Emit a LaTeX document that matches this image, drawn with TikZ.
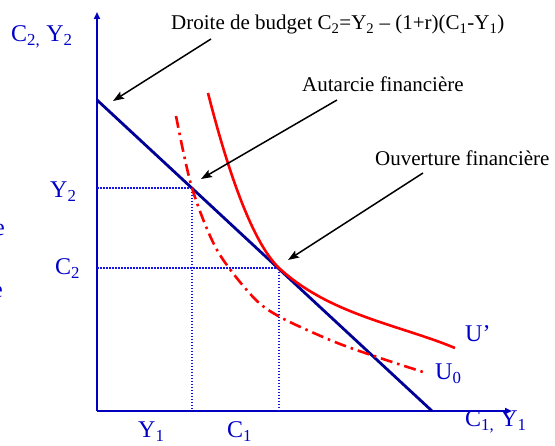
\documentclass[tikz,border=0pt]{standalone}
\usepackage{fontspec}
\setmainfont{Liberation Serif}
\usetikzlibrary{arrows.meta}
\definecolor{axisblue}{RGB}{0,0,190}
\definecolor{budgetblue}{RGB}{0,0,150}
\definecolor{dotblue}{RGB}{20,20,230}
\definecolor{labelblue}{RGB}{0,0,200}
\newcommand{\sbs}[1]{\textsubscript{#1}}

\begin{document}
\begin{tikzpicture}[x=1pt,y=-1pt,
  axis/.style={line width=2pt,axisblue},
  budget/.style={line width=2.8pt,budgetblue},
  guide/.style={line width=1.5pt,dotblue,dash pattern=on 1.5pt off 1.5pt},
  pointer/.style={line width=1.5pt,-{Stealth[length=11pt,width=8pt,inset=2pt]}},
  blabel/.style={text=labelblue,font=\fontsize{24}{26}\selectfont,inner sep=0pt,anchor=base west},
  tlabel/.style={font=\fontsize{21}{24}\selectfont,inner sep=0pt,anchor=base west}]
  \useasboundingbox (0,0) rectangle (555,446);
  \clip (0,0) rectangle (555,446);

  % axes
  \coordinate (O) at (97,411);
  \coordinate (ytop) at (97,12);
  \coordinate (xend) at (512,411);
  \draw[axis,-{Triangle[length=7pt,width=6pt]}] (O) -- (ytop);
  \draw[axis,-{Triangle[length=7pt,width=6pt]}] (O) -- (xend);

  % budget line and points
  \coordinate (bTop) at (97,100);
  \coordinate (bEnd) at (432,411);
  \coordinate (Ypt) at (192,188);
  \coordinate (Cpt) at (279,268);
  \draw[guide] (97,188) -- (Ypt) -- (192,411);
  \draw[guide] (97,268) -- (Cpt) -- (279,411);
  \draw[budget] (bTop) -- (bEnd);

  % indifference curves
  \draw[red,line width=2.6pt] (208,93) .. controls (225,160) and (250,240) .. (Cpt)
     .. controls (330,315) and (400,325) .. (455,348);
  \draw[red,line width=2.6pt,dash pattern=on 12pt off 5pt on 2.5pt off 5pt]
     plot[smooth] coordinates {(176,116) (192,188) (217,250) (253,297) (280,317)
       (330,340) (368,354) (423,372)};

  % labels
  \node[blabel] (lc2y2) at (11,42) {C\sbs{2,} Y\sbs{2}};
  \node[blabel] (ly2) at (50,198) {Y\sbs{2}};
  \node[blabel] (lc2) at (55,275) {C\sbs{2}};
  \node[blabel] (ly1) at (138,438) {Y\sbs{1}};
  \node[blabel] (lc1) at (227,438) {C\sbs{1}};
  \node[blabel] (lc1y1) at (465,427) {C\sbs{1,} Y\sbs{1}};
  \node[blabel] (lu1) at (465,342) {U’};
  \node[blabel] (lu0) at (435,380) {U\sbs{0}};
  \node[blabel] (le1) at (-6,236) {e};
  \node[blabel] (le2) at (-8,298) {e};

  \node[tlabel] (budgetTxt) at (171,30) {Droite de budget C\sbs{2}=Y\sbs{2} – (1+r)(C\sbs{1}-Y\sbs{1})};
  \node[tlabel] (autTxt) at (302,92) {Autarcie financière};
  \node[tlabel] (ouvTxt) at (375,166) {Ouverture financière};

  % pointers
  \coordinate (p1s) at (211,39);
  \coordinate (p1e) at (113,101);
  \coordinate (p2s) at (337,100);
  \coordinate (p2e) at (201,179);
  \coordinate (p3s) at (423,173);
  \coordinate (p3e) at (288,260);
  \draw[pointer] (p1s) -- (p1e);
  \draw[pointer] (p2s) -- (p2e);
  \draw[pointer] (p3s) -- (p3e);
\end{tikzpicture}
\end{document}
